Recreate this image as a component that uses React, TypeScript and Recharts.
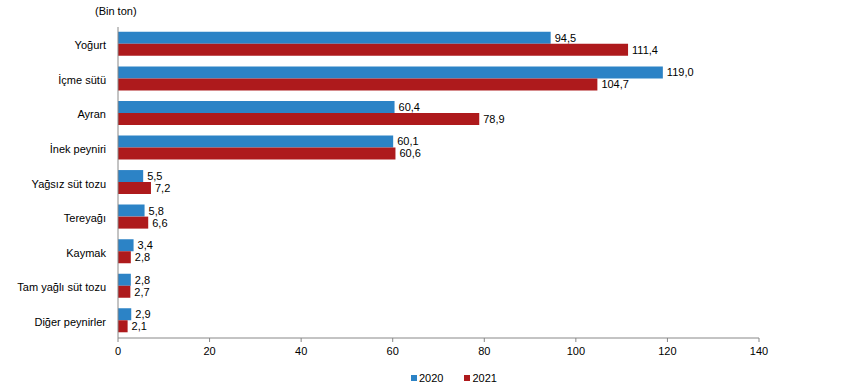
import React from 'react';
import { BarChart, Bar, XAxis, YAxis, LabelList } from 'recharts';

const categories = ['Yoğurt', 'İçme sütü', 'Ayran', 'İnek peyniri', 'Yağsız süt tozu', 'Tereyağı', 'Kaymak', 'Tam yağlı süt tozu', 'Diğer peynirler'];
const values2020 = [94.5, 119.0, 60.4, 60.1, 5.5, 5.8, 3.4, 2.8, 2.9];
const values2021 = [111.4, 104.7, 78.9, 60.6, 7.2, 6.6, 2.8, 2.7, 2.1];
const xTicks = [0, 20, 40, 60, 80, 100, 120, 140];
const seriesNames = ['2020', '2021'];

const data = categories.map((c, i) => ({ name: c, v2020: values2020[i], v2021: values2021[i] }));

const BLUE = '#2C83C6';
const RED = '#AE1A1C';
const FONT = 'Arial, "Liberation Sans", sans-serif';

const fmt = (v: any) => Number(v).toFixed(1).replace('.', ',');

const CatTick = (props: any) => {
  const { x, y, payload } = props;
  return (
    <text x={x - 4} y={y} dy={5} textAnchor="end" fill="#000" fontSize={11} fontFamily={FONT}>
      {payload.value}
    </text>
  );
};

export default function App() {
  return (
    <div style={{ position: 'absolute', left: 0, top: 0, width: 843, height: 392, fontFamily: FONT, background: '#fff' }}>
      <div style={{ position: 'absolute', left: 95, top: 5, fontSize: 11, color: '#000' }}>(Bin ton)</div>
      <BarChart
        width={843}
        height={392}
        data={data}
        layout="vertical"
        margin={{ top: 27, right: 84, bottom: 24, left: 0 }}
        barCategoryGap="14%"
        barGap={0}
      >
        <XAxis
          type="number"
          domain={[0, 140]}
          ticks={xTicks}
          interval={0}
          height={30}
          tickLine={{ stroke: '#888' }}
          tickSize={4}
          tickMargin={5}
          axisLine={{ stroke: '#888' }}
          tick={{ fill: '#000', fontSize: 11, fontFamily: FONT }}
        />
        <YAxis
          type="category"
          dataKey="name"
          width={118}
          tickLine={false}
          axisLine={{ stroke: '#888' }}
          tick={<CatTick />}
        />
        <Bar dataKey="v2020" name={seriesNames[0]} fill={BLUE} isAnimationActive={false}>
          <LabelList dataKey="v2020" position="right" offset={4} formatter={fmt} style={{ fill: '#000', fontSize: 11, fontFamily: FONT }} />
        </Bar>
        <Bar dataKey="v2021" name={seriesNames[1]} fill={RED} isAnimationActive={false}>
          <LabelList dataKey="v2021" position="right" offset={4} formatter={fmt} style={{ fill: '#000', fontSize: 11, fontFamily: FONT }} />
        </Bar>
      </BarChart>
      <div style={{ position: 'absolute', top: 372, left: 411, display: 'flex', fontSize: 11, color: '#000' }}>
        <div style={{ display: 'flex', alignItems: 'center', marginRight: 21 }}>
          <span style={{ display: 'inline-block', width: 6, height: 6, background: BLUE, marginRight: 2 }} />
          <span>{seriesNames[0]}</span>
        </div>
        <div style={{ display: 'flex', alignItems: 'center' }}>
          <span style={{ display: 'inline-block', width: 6, height: 6, background: RED, marginRight: 2 }} />
          <span>{seriesNames[1]}</span>
        </div>
      </div>
    </div>
  );
}
